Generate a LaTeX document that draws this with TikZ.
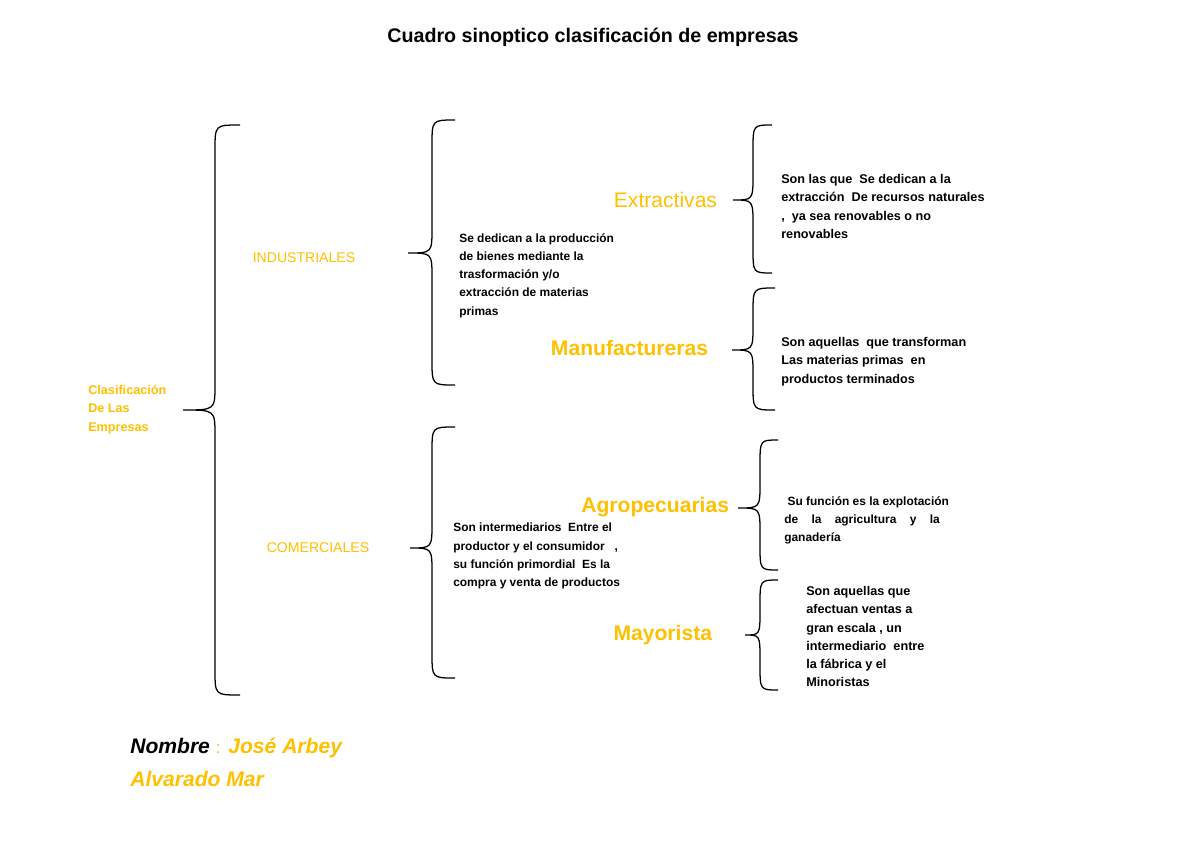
\documentclass[tikz,border=0pt]{standalone}
\usepackage{fontspec}
\setmainfont{Liberation Sans}
\definecolor{gold}{HTML}{FFC000}
\newcommand\mybrace[6]{% xr xm xt yt ym yb
  \draw[line width=0.9pt] (#1,#4) .. controls (#2,#4) .. (#2,#4+25) -- (#2,#5-25) .. controls (#2,#5) .. (#3,#5)
    .. controls (#2,#5) .. (#2,#5+25) -- (#2,#6-25) .. controls (#2,#6) .. (#1,#6);}
\begin{document}
\begin{tikzpicture}[x=0.025cm,y=-0.025cm,
  sm/.style={font=\fontsize{9}{13}\selectfont\bfseries,align=left,anchor=north west,inner sep=0},
  cat/.style={text=gold,font=\fontsize{15}{18}\selectfont},
  catb/.style={text=gold,font=\fontsize{15}{18}\selectfont\bfseries}]
\useasboundingbox[fill=white] (0,0) rectangle (1200,849);
\node[font=\fontsize{14}{16}\selectfont\bfseries] (title) at (593,37) {Cuadro sinoptico clasificación de empresas};
\mybrace{240}{215}{183}{125}{410}{695}
\mybrace{455}{432}{408}{120}{253}{385}
\mybrace{455}{432}{410}{427}{548}{678}
\mybrace{772}{753}{733}{125}{200}{273}
\mybrace{775}{753}{732}{288}{350}{410}
\mybrace{778}{760}{738}{440}{508}{570}
\mybrace{778}{760}{745}{580}{635}{690}
\node[sm,text=gold] (clas) at (88,385) {Clasificación\\De Las\\Empresas};
\node[text=gold,font=\fontsize{10}{12}\selectfont] (ind) at (304,258) {INDUSTRIALES};
\node[text=gold,font=\fontsize{10}{12}\selectfont] (com) at (318,548) {COMERCIALES};
\node[sm,font=\fontsize{8.5}{13}\selectfont\bfseries] (t1) at (459,233) {Se dedican a la producción\\de bienes mediante la\\trasformación y/o\\extracción de materias\\primas};
\node[sm,font=\fontsize{8.5}{13}\selectfont\bfseries] (t2) at (453,523) {Son intermediarios\ \ Entre el\\productor y el consumidor \ \ ,\\su función primordial\ \ Es la\\compra y venta de productos};
\node[cat,anchor=east] (ext) at (722,200) {Extractivas};
\node[catb,anchor=east] (man) at (713,348) {Manufactureras};
\node[catb,anchor=east] (agr) at (734,507) {Agropecuarias};
\node[catb,anchor=east] (may) at (717,635) {Mayorista};
\node[sm] (d1) at (781,174) {Son las que\ \ Se dedican a la\\extracción\ \ De recursos naturales\\,\ \ ya sea renovables o no\\renovables};
\node[sm] (d2) at (781,337) {Son aquellas\ \ que transforman\\Las materias primas\ \ en\\productos terminados};
\node[sm,font=\fontsize{8.5}{13}\selectfont\bfseries] (d3) at (784,496) {\ Su función es la explotación\\de\ \ \ \ la\ \ \ \ agricultura\ \ \ \ y\ \ \ \ la\\ganadería};
\node[sm] (d4) at (806,586) {Son aquellas que\\afectuan ventas a\\gran escala\ , un\\intermediario\ \ entre\\la fábrica y el\\Minoristas};
\node[anchor=north west,inner sep=0,align=left,font=\fontsize{15}{23}\selectfont\bfseries\itshape] (nom) at (130,738) {Nombre \textcolor{gold}{\normalfont\fontsize{12}{23}\selectfont:} \textcolor{gold}{José Arbey}\\\textcolor{gold}{Alvarado Mar}};
\end{tikzpicture}
\end{document}
